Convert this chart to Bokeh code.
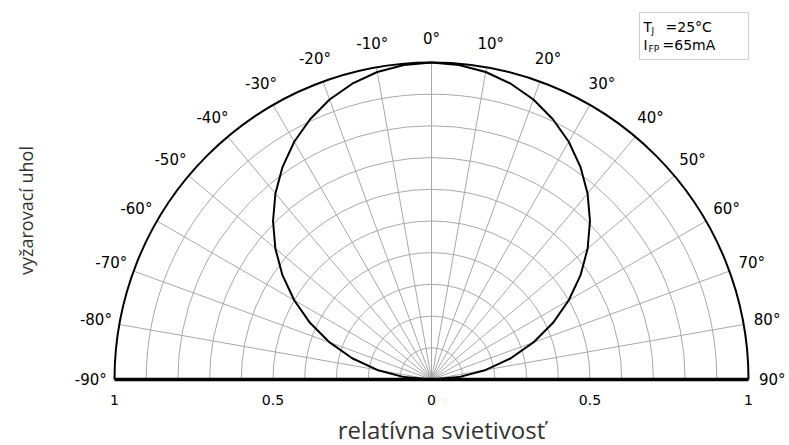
import numpy as np
from bokeh.plotting import figure
from bokeh.models import Label, BoxAnnotation, Range1d
from bokeh.core.properties import value
from bokeh.embed import file_html
from bokeh.resources import INLINE

# ---- data ----
angles_deg = [-90, -85, -80, -75, -70, -65, -60, -55, -50, -45, -40, -35, -30, -25, -20, -15, -10, -5,
              0, 5, 10, 15, 20, 25, 30, 35, 40, 45, 50, 55, 60, 65, 70, 75, 80, 85, 90]
intensity = [0.000, 0.087, 0.174, 0.259, 0.342, 0.423, 0.500, 0.574, 0.643, 0.707, 0.766, 0.819, 0.866,
             0.906, 0.940, 0.966, 0.985, 0.996,
             1.000,
             0.996, 0.985, 0.966, 0.940, 0.906, 0.866, 0.819, 0.766, 0.707, 0.643, 0.574, 0.500, 0.423,
             0.342, 0.259, 0.174, 0.087, 0.000]
grid_radii = [0.1, 0.2, 0.3, 0.4, 0.5, 0.6, 0.7, 0.8, 0.9]
spoke_angles = [-80, -70, -60, -50, -40, -30, -20, -10, 0, 10, 20, 30, 40, 50, 60, 70, 80]
angle_label_values = [-90, -80, -70, -60, -50, -40, -30, -20, -10, 0, 10, 20, 30, 40, 50, 60, 70, 80, 90]
radial_tick_pos = [-1.0, -0.5, 0.0, 0.5, 1.0]
radial_tick_labels = ["1", "0.5", "0", "0.5", "1"]
x_title = "relatívna svietivosť"
y_title = "vyžarovací uhol"

# ---- layout ----
W, H = 789, 445
CX, CY, R = 431, 66, 317

p = figure(width=W, height=H, output_backend="svg", toolbar_location=None,
           x_range=Range1d(-CX / R, (W - CX) / R), y_range=Range1d(-CY / R, (H - CY) / R),
           x_axis_location=None, y_axis_location=None, min_border=0)
p.grid.visible = False
p.outline_line_color = None

GRID = "#a8a8a8"
FONT = "DejaVu Sans"

# concentric grid
p.arc(x=0, y=0, radius=grid_radii, start_angle=0, end_angle=np.pi, line_color=GRID, line_width=1)
# spokes
sa = np.radians(spoke_angles)
p.segment(x0=0, y0=0, x1=np.sin(sa), y1=np.cos(sa), line_color=GRID, line_width=1)
# outer arc
p.arc(x=0, y=0, radius=1.0, start_angle=0, end_angle=np.pi, line_color="black", line_width=2)
# base line
p.segment(x0=[-1.0], y0=[0.0], x1=[1.0], y1=[0.0], line_color="black", line_width=3.5)

# radiation pattern
th = np.radians(angles_deg)
r = np.array(intensity)
p.line(x=r * np.sin(th), y=r * np.cos(th), line_color="black", line_width=2)

# angle labels
la = np.radians(angle_label_values)
p.text(x=1.075 * np.sin(la), y=1.075 * np.cos(la), text=[f"{a}°" for a in angle_label_values],
       text_align="center", text_baseline="middle", text_font=value(FONT), text_font_size="15px",
       text_color="black")

# radial tick labels
p.text(x=radial_tick_pos, y=[0.0] * len(radial_tick_pos), text=radial_tick_labels, y_offset=20,
       text_align="center", text_baseline="middle", text_font=value(FONT), text_font_size="14px",
       text_color="black")

# axis titles
p.add_layout(Label(x=441, y=0, x_units="screen", y_units="screen", text=x_title,
                   text_align="center", text_baseline="bottom", text_font="Open Sans",
                   text_font_size="24px", text_color="#333333"))
p.add_layout(Label(x=25, y=235, x_units="screen", y_units="screen", text=y_title, angle=np.pi / 2,
                   text_align="center", text_baseline="middle", text_font="Open Sans",
                   text_font_size="18px", text_color="#333333"))

# legend box
p.add_layout(BoxAnnotation(left=639, right=748, top=433, bottom=386,
                           left_units="screen", right_units="screen", top_units="screen", bottom_units="screen",
                           fill_color="white", fill_alpha=1.0, line_color="#555555", line_width=1))
legend_items = [
    (643, 419, "T", 13.5),
    (651, 415, "J", 9),
    (665, 419, "=25°C", 14),
    (643, 401, "I", 13.5),
    (648, 397, "FP", 9),
    (662, 401, "=65mA", 14),
]
for lx, ly, txt, fs in legend_items:
    p.add_layout(Label(x=lx, y=ly, x_units="screen", y_units="screen", text=txt,
                       text_align="left", text_baseline="middle", text_font=FONT,
                       text_font_size=f"{fs}px", text_color="black"))

open("out.html", "w").write(file_html(p, INLINE))
